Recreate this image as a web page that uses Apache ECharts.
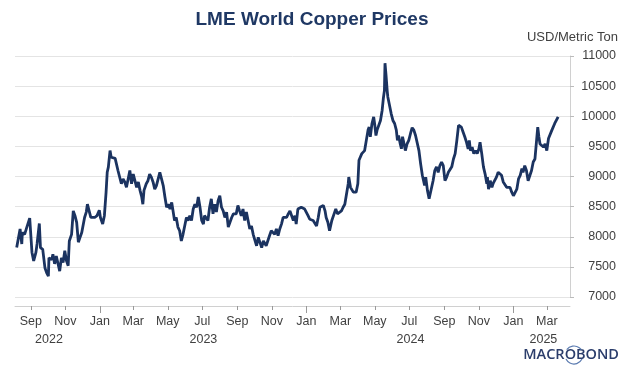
<!DOCTYPE html>
<html>
<head>
<meta charset="utf-8">
<script src="https://cdn.jsdelivr.net/npm/echarts@6/dist/echarts.min.js"></script>
<style>
  html, body { margin: 0; padding: 0; background: #fff; }
  #chart { width: 624px; height: 376px; }
</style>
</head>
<body>
<div id="chart"></div>
<script>
// LME copper, USD/metric ton
const dates = [
  '2022-08-07','2022-08-10','2022-08-13','2022-08-16','2022-08-17','2022-08-21','2022-08-24','2022-08-27','2022-08-30',
  '2022-09-01','2022-09-03','2022-09-06','2022-09-10','2022-09-12','2022-09-16','2022-09-18','2022-09-22','2022-09-26','2022-09-29',
  '2022-10-02','2022-10-03','2022-10-08','2022-10-10','2022-10-13','2022-10-16','2022-10-19','2022-10-22','2022-10-25','2022-10-28','2022-10-31',
  '2022-11-03','2022-11-06','2022-11-08','2022-11-12','2022-11-15','2022-11-18','2022-11-21','2022-11-24','2022-11-27','2022-11-30',
  '2022-12-02','2022-12-05','2022-12-08','2022-12-10','2022-12-13','2022-12-16','2022-12-19','2022-12-23','2022-12-27','2022-12-31',
  '2023-01-02','2023-01-06','2023-01-09','2023-01-12','2023-01-14','2023-01-16','2023-01-19','2023-01-21','2023-01-24','2023-01-28','2023-01-30',
  '2023-02-02','2023-02-05','2023-02-08','2023-02-11','2023-02-14','2023-02-17','2023-02-20','2023-02-23','2023-02-26',
  '2023-03-01','2023-03-04','2023-03-07','2023-03-10','2023-03-13','2023-03-16','2023-03-18','2023-03-20','2023-03-24','2023-03-27','2023-03-30',
  '2023-04-02','2023-04-05','2023-04-08','2023-04-11','2023-04-14','2023-04-17','2023-04-20','2023-04-23','2023-04-26','2023-04-29',
  '2023-05-02','2023-05-05','2023-05-08','2023-05-10','2023-05-13','2023-05-16','2023-05-19','2023-05-22','2023-05-25','2023-05-28','2023-05-31',
  '2023-06-03','2023-06-06','2023-06-09','2023-06-12','2023-06-15','2023-06-18','2023-06-21','2023-06-24','2023-06-27','2023-06-30',
  '2023-07-03','2023-07-05','2023-07-08','2023-07-11','2023-07-14','2023-07-17','2023-07-20','2023-07-23','2023-07-26','2023-07-29',
  '2023-08-01','2023-08-04','2023-08-07','2023-08-10','2023-08-13','2023-08-16','2023-08-19','2023-08-22','2023-08-25','2023-08-27','2023-08-30',
  '2023-09-02','2023-09-05','2023-09-08','2023-09-11','2023-09-14','2023-09-17','2023-09-20','2023-09-23','2023-09-26','2023-09-29',
  '2023-10-02','2023-10-05','2023-10-08','2023-10-11','2023-10-14','2023-10-17','2023-10-19','2023-10-22','2023-10-25','2023-10-28','2023-10-31',
  '2023-11-03','2023-11-06','2023-11-09','2023-11-12','2023-11-15','2023-11-18','2023-11-21','2023-11-24','2023-11-27','2023-11-30',
  '2023-12-03','2023-12-06','2023-12-09','2023-12-12','2023-12-14','2023-12-17','2023-12-20','2023-12-23','2023-12-26','2023-12-29',
  '2024-01-01','2024-01-04','2024-01-07','2024-01-10','2024-01-13','2024-01-16','2024-01-19','2024-01-22','2024-01-25','2024-01-28','2024-01-31',
  '2024-02-03','2024-02-05','2024-02-08','2024-02-11','2024-02-13','2024-02-15','2024-02-19','2024-02-22','2024-02-25','2024-02-28',
  '2024-03-03','2024-03-06','2024-03-09','2024-03-12','2024-03-15','2024-03-16','2024-03-19','2024-03-24','2024-03-27','2024-03-29',
  '2024-04-01','2024-04-03','2024-04-06','2024-04-08','2024-04-11','2024-04-13','2024-04-16','2024-04-19','2024-04-21','2024-04-23','2024-04-26','2024-04-29',
  '2024-05-01','2024-05-03','2024-05-05','2024-05-08','2024-05-11','2024-05-14','2024-05-16','2024-05-18','2024-05-19','2024-05-21','2024-05-23','2024-05-24','2024-05-27','2024-05-30',
  '2024-06-02','2024-06-05','2024-06-08','2024-06-10','2024-06-12','2024-06-15','2024-06-17','2024-06-19','2024-06-21','2024-06-24','2024-06-27','2024-06-30',
  '2024-07-03','2024-07-06','2024-07-09','2024-07-12','2024-07-15','2024-07-18','2024-07-21','2024-07-24','2024-07-26','2024-07-28','2024-07-30',
  '2024-08-02','2024-08-05','2024-08-08','2024-08-12','2024-08-15','2024-08-18','2024-08-21','2024-08-24','2024-08-27','2024-08-30',
  '2024-09-02','2024-09-05','2024-09-08','2024-09-11','2024-09-14','2024-09-17','2024-09-20','2024-09-23','2024-09-26','2024-09-29',
  '2024-10-01','2024-10-04','2024-10-07','2024-10-10','2024-10-13','2024-10-15','2024-10-17','2024-10-20','2024-10-23','2024-10-26','2024-10-29',
  '2024-11-01','2024-11-03','2024-11-06','2024-11-09','2024-11-12','2024-11-15','2024-11-16','2024-11-18','2024-11-21','2024-11-24','2024-11-26','2024-11-29',
  '2024-12-02','2024-12-05','2024-12-08','2024-12-11','2024-12-14','2024-12-17','2024-12-20','2024-12-23','2024-12-26','2024-12-29',
  '2025-01-01','2025-01-04','2025-01-07','2025-01-10','2025-01-13','2025-01-16','2025-01-18','2025-01-21','2025-01-24','2025-01-27','2025-01-30',
  '2025-02-02','2025-02-05','2025-02-08','2025-02-11','2025-02-13','2025-02-15','2025-02-17','2025-02-20','2025-02-23','2025-02-26',
  '2025-03-01','2025-03-04','2025-03-07','2025-03-10','2025-03-12','2025-03-15','2025-03-18','2025-03-21'
];
const prices = [
  7820,7850,8130,7880,8070,8040,8130,8100,8310,
  8290,7740,7600,7740,7880,8220,7820,7790,7480,7400,
  7345,7650,7620,7710,7550,7680,7710,7430,7650,7570,7770,
  7600,7520,7930,8040,8430,8350,8240,7910,7990,8070,
  8040,8320,8410,8540,8430,8320,8350,8320,8350,8440,
  8320,8210,8350,8740,9070,9155,9430,9320,9350,9300,9320,
  9100,9070,8880,8960,8910,8820,8960,9100,8880,
  9040,9020,8820,8910,8770,8660,8540,8770,8880,8930,9040,
  8990,8910,8790,8850,8820,9070,8960,8850,8660,8490,
  8540,8460,8570,8540,8270,8320,8160,8100,7930,8040,8020,
  8320,8270,8350,8270,8460,8540,8490,8660,8490,8270,
  8210,8350,8320,8270,8490,8630,8380,8540,8410,8600,
  8680,8490,8430,8320,8410,8160,8240,8320,8380,8350,8380,
  8520,8430,8350,8460,8270,8410,8270,8130,8180,8040,
  8020,7850,7990,7960,7820,7930,7910,7850,7880,8020,8100,
  8100,8040,8130,8020,8130,8210,8320,8290,8320,8380,
  8430,8350,8270,8350,8210,8460,8460,8490,8520,8460,
  8430,8350,8290,8320,8270,8240,8180,8320,8490,8460,8520,
  8430,8320,8240,8100,8070,8270,8380,8460,8380,8350,
  8430,8490,8540,8570,8880,8990,8820,8740,8710,8740,
  8880,9270,9290,9380,9350,9430,9430,9770,9820,9660,9880,9990,
  9850,9680,9770,9770,9930,10100,10290,10430,10880,10660,10410,10320,10290,10040,
  9930,9880,9770,9600,9680,9540,9460,9660,9570,9430,9540,9600,
  9710,9810,9770,9680,9660,9430,9210,9020,8990,8850,8990,
  8770,8630,8660,8930,9100,9160,9070,9180,9240,9180,
  8930,8990,9070,9100,9160,9290,9380,9600,9850,9880,
  9820,9740,9660,9570,9460,9600,9430,9490,9380,9430,9380,
  9460,9570,9380,9160,9040,8880,8990,8790,8930,8820,8880,8910,
  8990,9070,9100,9020,8910,8880,8820,8850,8820,8740,
  8680,8710,8790,8960,9020,9130,9070,9180,9100,8930,8910,
  9100,9240,9290,9270,9820,9660,9540,9540,9490,9540,
  9430,9630,9660,9770,9740,9880,9910,9990
];
const monthTicks = ['2022-09-01','2022-11-01','2023-01-01','2023-03-01','2023-05-01','2023-07-01','2023-09-01','2023-11-01',
  '2024-01-01','2024-03-01','2024-05-01','2024-07-01','2024-09-01','2024-11-01','2025-01-01','2025-03-01'];
const monthNames = ['Jan','Feb','Mar','Apr','May','Jun','Jul','Aug','Sep','Oct','Nov','Dec'];
const yearTicks = ['2023-01-01','2024-01-01','2025-01-01'];
const yearLabels = ['2022','2023','2024','2025'];
const yearLabelDates = ['2022-10-03','2023-07-03','2024-07-03','2025-02-23'];
const xStart = '2022-08-04';
const xEnd = '2025-04-11';

function ts(s) {
  const p = s.split('-').map(Number);
  return new Date(p[0], p[1] - 1, p[2]).getTime();
}

const chart = echarts.init(document.getElementById('chart'));
const axisGray = '#d0d0d0';
const textGray = '#404040';
const font = "'Liberation Sans', Arial, sans-serif";
const yearPos = yearLabelDates.map(ts);

const option = {
  animation: false,
  title: {
    text: 'LME World Copper Prices',
    left: 'center',
    top: 5,
    textStyle: { fontSize: 19, fontWeight: 'bold', color: '#1f3864', fontFamily: font }
  },
  grid: { left: 15, right: 54, top: 56, bottom: 79 },
  xAxis: [{
    type: 'value',
    min: ts(xStart),
    max: ts(xEnd),
    offset: 9,
    axisLine: { show: true, lineStyle: { color: axisGray } },
    axisTick: { show: true, length: 4, lineStyle: { color: '#999' }, customValues: monthTicks.map(ts) },
    axisLabel: {
      customValues: monthTicks.map(ts),
      margin: 9,
      color: textGray, fontSize: 12.5, fontFamily: font,
      formatter: v => monthNames[new Date(v).getMonth()]
    },
    splitLine: { show: false }
  }, {
    type: 'value',
    min: ts(xStart),
    max: ts(xEnd),
    position: 'bottom',
    offset: 9,
    axisLine: { show: false },
    axisTick: { show: true, length: 7, lineStyle: { color: '#999' }, customValues: yearTicks.map(ts) },
    axisLabel: {
      customValues: yearPos,
      margin: 27,
      color: textGray, fontSize: 12.5, fontFamily: font,
      formatter: v => yearLabels[yearPos.indexOf(v)]
    },
    splitLine: { show: false }
  }],
  yAxis: {
    type: 'value',
    position: 'right',
    min: 7000,
    max: 11000,
    interval: 500,
    axisLine: { show: true, lineStyle: { color: axisGray } },
    axisTick: { show: true, length: 4, lineStyle: { color: '#bbb' } },
    axisLabel: {
      color: textGray, fontSize: 12.5, fontFamily: font, align: 'right', margin: 46,
      formatter: v => String(v)
    },
    splitLine: { lineStyle: { color: '#e4e4e4' } }
  },
  graphic: [{
    type: 'text',
    right: 6,
    top: 31,
    style: { text: 'USD/Metric Ton', fill: textGray, fontSize: 13, fontFamily: font }
  }, {
    type: 'text',
    right: 5,
    top: 347,
    style: { text: 'MACROBOND', fill: '#2b3d6b', fontSize: 14.5, fontFamily: "'Open Sans', sans-serif", fontWeight: 600 }
  }, {
    type: 'arc',
    shape: { cx: 574, cy: 355, r: 9, startAngle: Math.PI * 0.15, endAngle: Math.PI * 0.85 },
    style: { stroke: '#5b7bb0', lineWidth: 1.2, fill: null }
  }, {
    type: 'arc',
    shape: { cx: 574, cy: 355, r: 9, startAngle: Math.PI * 1.2, endAngle: Math.PI * 1.8 },
    style: { stroke: '#5b7bb0', lineWidth: 1.2, fill: null }
  }],
  series: [{
    type: 'line',
    xAxisIndex: 0,
    data: dates.map((d, i) => [ts(d), prices[i]]),
    showSymbol: false,
    symbol: 'none',
    lineStyle: { color: '#1b3360', width: 2.8 }
  }]
};
chart.setOption(option);
</script>
</body>
</html>
